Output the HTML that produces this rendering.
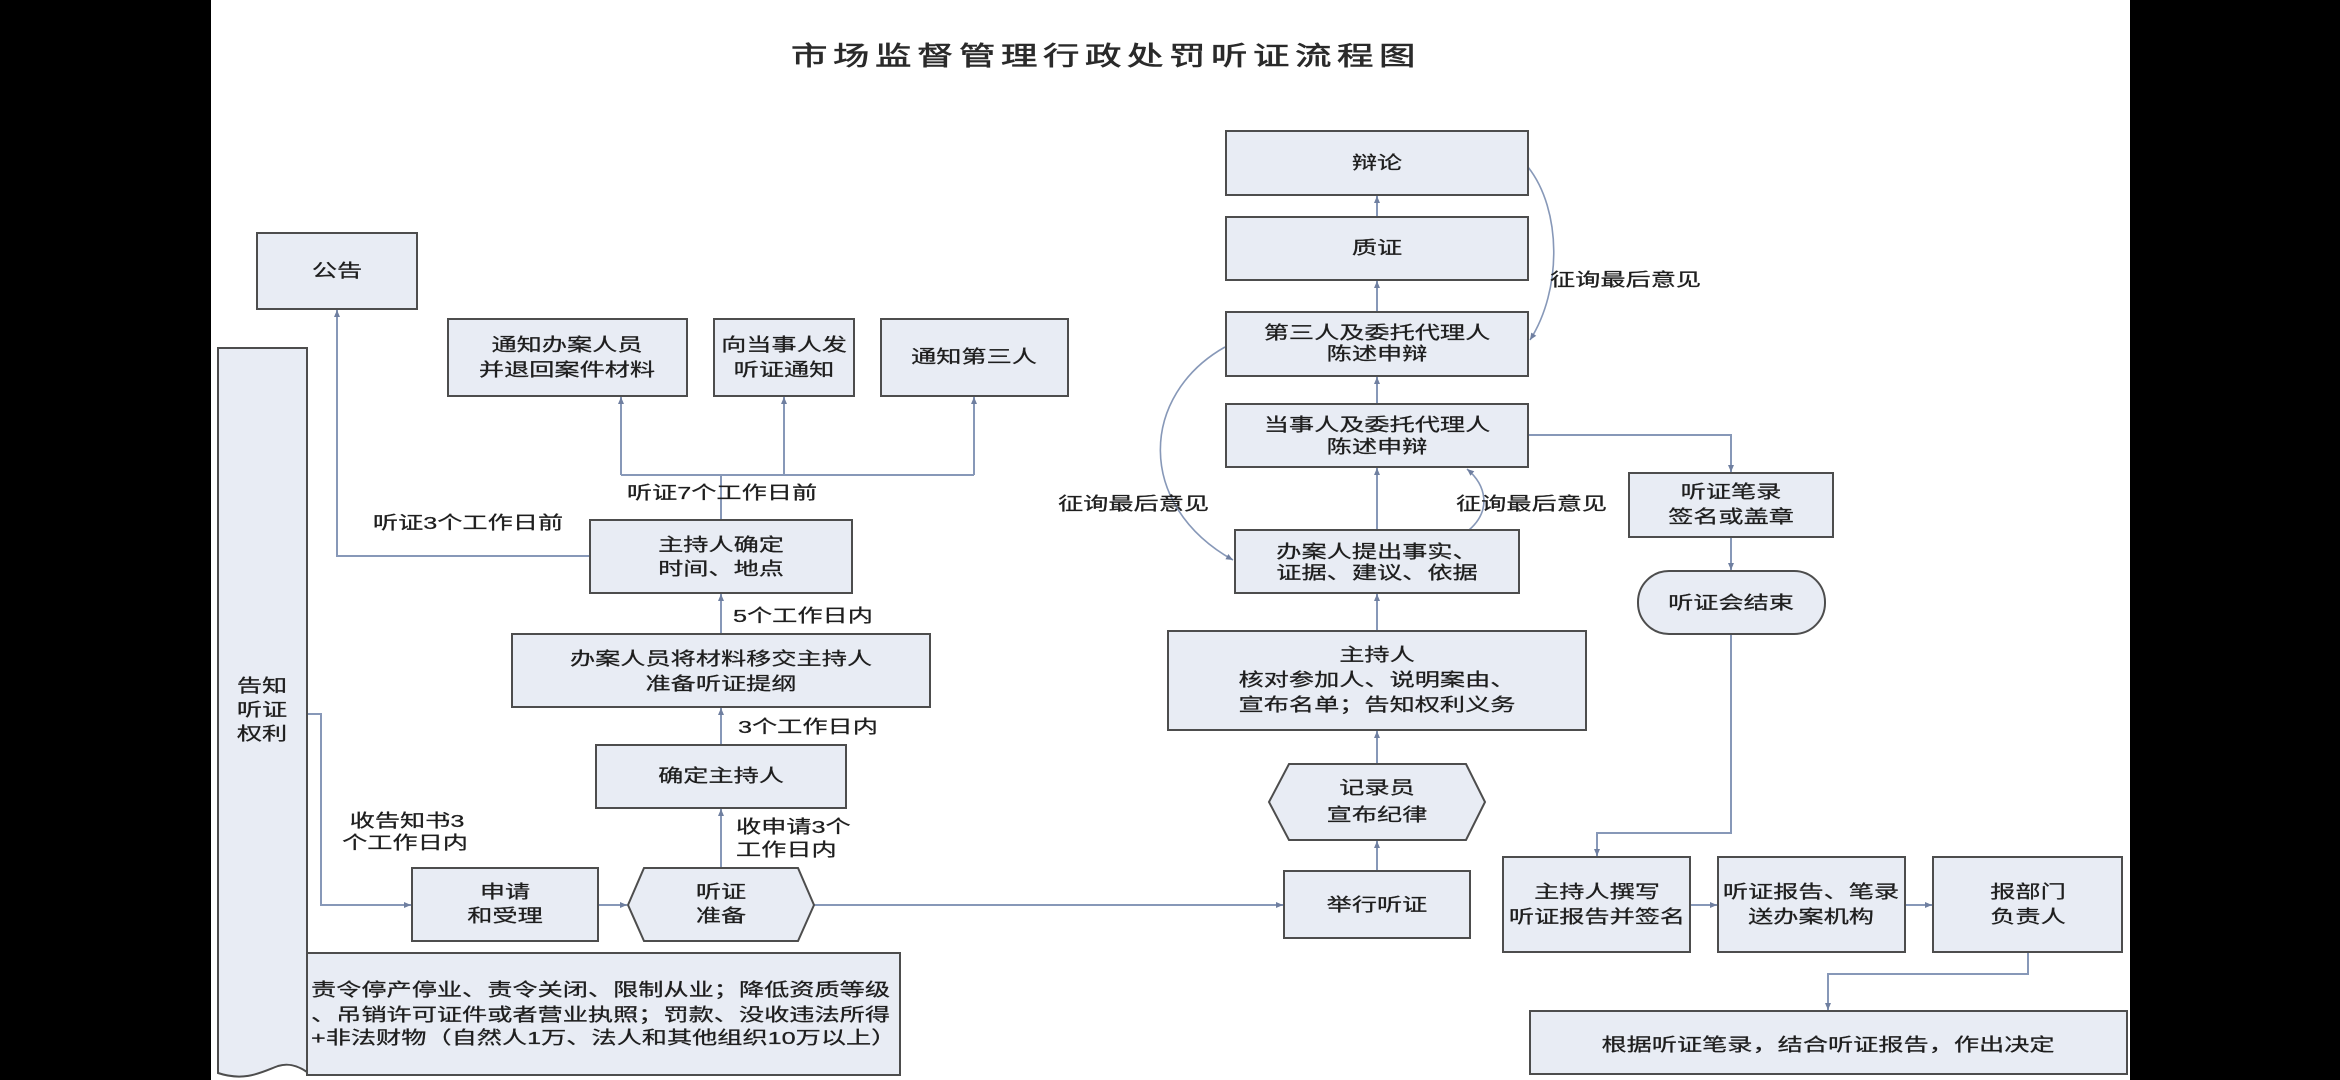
<!DOCTYPE html>
<html><head><meta charset="utf-8"><style>
html,body{margin:0;padding:0;background:#fff;}
svg{display:block;}
.t{font-family:"Liberation Sans","Noto Sans CJK SC",sans-serif;font-size:18px;fill:#1e1e1e;stroke:#1e1e1e;stroke-width:0.25;}
.ttl{font-family:"Liberation Sans","Noto Sans CJK SC",sans-serif;font-size:26px;fill:#2a2a2a;stroke:#2a2a2a;stroke-width:0.6;letter-spacing:4px;}
.b{fill:#e8ecf4;stroke:#4d4d4d;stroke-width:2;}
.c{fill:none;stroke:#8798b8;stroke-width:2;}
</style></head><body>
<svg width="2340" height="1080" viewBox="0 0 2340 1080" xmlns="http://www.w3.org/2000/svg">
<defs>
<marker id="a" markerWidth="8" markerHeight="8" refX="7" refY="4" orient="auto" markerUnits="userSpaceOnUse">
<path d="M0,1 L7,4 L0,7 Z" fill="#6f7fa0"/>
</marker>
</defs>
<rect x="0" y="0" width="2340" height="1080" fill="#fff"/>
<rect x="0" y="0" width="211" height="1080" fill="#000"/>
<rect x="2130" y="0" width="210" height="1080" fill="#000"/>

<!-- title -->
<text class="ttl" text-anchor="middle" dominant-baseline="central" transform="translate(1106,56) scale(1.4,1)">市场监督管理行政处罚听证流程图</text>

<!-- connectors left -->
<path class="c" d="M721,520 V475"/>
<path class="c" d="M621,475 H974"/>
<path class="c" d="M621,475 V397" marker-end="url(#a)"/>
<path class="c" d="M784,475 V397" marker-end="url(#a)"/>
<path class="c" d="M974,475 V397" marker-end="url(#a)"/>
<path class="c" d="M590,556 H337 V310" marker-end="url(#a)"/>
<path class="c" d="M721,634 V594" marker-end="url(#a)"/>
<path class="c" d="M721,745 V708" marker-end="url(#a)"/>
<path class="c" d="M721,868 V809" marker-end="url(#a)"/>
<path class="c" d="M307,714 H321 V905 H411" marker-end="url(#a)"/>
<path class="c" d="M598,905 H627" marker-end="url(#a)"/>
<path class="c" d="M814,905 H1283" marker-end="url(#a)"/>

<!-- connectors right -->
<path class="c" d="M1377,871 V841" marker-end="url(#a)"/>
<path class="c" d="M1377,764 V731" marker-end="url(#a)"/>
<path class="c" d="M1377,631 V594" marker-end="url(#a)"/>
<path class="c" d="M1377,530 V468" marker-end="url(#a)"/>
<path class="c" d="M1377,404 V377" marker-end="url(#a)"/>
<path class="c" d="M1377,312 V281" marker-end="url(#a)"/>
<path class="c" d="M1377,217 V196" marker-end="url(#a)"/>
<path class="c" d="M1528,167 C1562,210 1562,290 1530,340" marker-end="url(#a)" style="stroke-width:1.6"/>
<path class="c" d="M1225,347 C1140,395 1135,505 1233,560" marker-end="url(#a)" style="stroke-width:1.6"/>
<path class="c" d="M1469,530 C1492,510 1486,485 1467,469" marker-end="url(#a)" style="stroke-width:1.6"/>
<path class="c" d="M1528,435 H1731 V472" marker-end="url(#a)"/>
<path class="c" d="M1731,537 V570" marker-end="url(#a)"/>
<path class="c" d="M1731,634 V833 H1597 V856" marker-end="url(#a)"/>
<path class="c" d="M1690,905 H1717" marker-end="url(#a)"/>
<path class="c" d="M1905,905 H1932" marker-end="url(#a)"/>
<path class="c" d="M2028,952 V974 H1828 V1010" marker-end="url(#a)"/>

<!-- left document shape -->
<path class="b" d="M218,348 H307 V1072 C297,1065 288,1063 278,1066 C262,1072 245,1082 218,1073 Z"/>
<text class="t" text-anchor="middle" dominant-baseline="central" transform="translate(262,686) scale(1.4,1)">告知</text>
<text class="t" text-anchor="middle" dominant-baseline="central" transform="translate(262,710) scale(1.4,1)">听证</text>
<text class="t" text-anchor="middle" dominant-baseline="central" transform="translate(262,734) scale(1.4,1)">权利</text>

<!-- left boxes -->
<rect class="b" x="257" y="233" width="160" height="76"/>
<text class="t" text-anchor="middle" dominant-baseline="central" transform="translate(337,271) scale(1.4,1)">公告</text>

<rect class="b" x="448" y="319" width="239" height="77"/>
<text class="t" text-anchor="middle" dominant-baseline="central" transform="translate(567,345) scale(1.4,1)">通知办案人员</text>
<text class="t" text-anchor="middle" dominant-baseline="central" transform="translate(567,370) scale(1.4,1)">并退回案件材料</text>

<rect class="b" x="714" y="319" width="140" height="77"/>
<text class="t" text-anchor="middle" dominant-baseline="central" transform="translate(784,345) scale(1.4,1)">向当事人发</text>
<text class="t" text-anchor="middle" dominant-baseline="central" transform="translate(784,370) scale(1.4,1)">听证通知</text>

<rect class="b" x="881" y="319" width="187" height="77"/>
<text class="t" text-anchor="middle" dominant-baseline="central" transform="translate(974,357) scale(1.4,1)">通知第三人</text>

<rect class="b" x="590" y="520" width="262" height="73"/>
<text class="t" text-anchor="middle" dominant-baseline="central" transform="translate(721,545) scale(1.4,1)">主持人确定</text>
<text class="t" text-anchor="middle" dominant-baseline="central" transform="translate(721,569) scale(1.4,1)">时间、地点</text>

<rect class="b" x="512" y="634" width="418" height="73"/>
<text class="t" text-anchor="middle" dominant-baseline="central" transform="translate(721,659) scale(1.4,1)">办案人员将材料移交主持人</text>
<text class="t" text-anchor="middle" dominant-baseline="central" transform="translate(721,684) scale(1.4,1)">准备听证提纲</text>

<rect class="b" x="596" y="745" width="250" height="63"/>
<text class="t" text-anchor="middle" dominant-baseline="central" transform="translate(721,776) scale(1.4,1)">确定主持人</text>

<rect class="b" x="412" y="868" width="186" height="73"/>
<text class="t" text-anchor="middle" dominant-baseline="central" transform="translate(505,892) scale(1.4,1)">申请</text>
<text class="t" text-anchor="middle" dominant-baseline="central" transform="translate(505,916) scale(1.4,1)">和受理</text>

<path class="b" d="M628,905 L644,868 H798 L814,905 L798,941 H644 Z"/>
<text class="t" text-anchor="middle" dominant-baseline="central" transform="translate(721,892) scale(1.4,1)">听证</text>
<text class="t" text-anchor="middle" dominant-baseline="central" transform="translate(721,916) scale(1.4,1)">准备</text>

<rect class="b" x="307" y="953" width="593" height="122"/>
<text class="t" dominant-baseline="central" transform="translate(311,990) scale(1.4,1)">责令停产停业、责令关闭、限制从业；降低资质等级</text>
<text class="t" dominant-baseline="central" transform="translate(311,1015) scale(1.4,1)">、吊销许可证件或者营业执照；罚款、没收违法所得</text>
<text class="t" dominant-baseline="central" transform="translate(311,1038) scale(1.4,1)">+非法财物（自然人1万、法人和其他组织10万以上）</text>

<!-- left labels -->
<text class="t" text-anchor="middle" dominant-baseline="central" transform="translate(722,493) scale(1.4,1)">听证7个工作日前</text>
<text class="t" text-anchor="middle" dominant-baseline="central" transform="translate(468,523) scale(1.4,1)">听证3个工作日前</text>
<text class="t" dominant-baseline="central" transform="translate(733,616) scale(1.4,1)">5个工作日内</text>
<text class="t" dominant-baseline="central" transform="translate(738,727) scale(1.4,1)">3个工作日内</text>
<text class="t" dominant-baseline="central" transform="translate(736,827) scale(1.4,1)">收申请3个</text>
<text class="t" dominant-baseline="central" transform="translate(736,850) scale(1.4,1)">工作日内</text>
<text class="t" text-anchor="middle" dominant-baseline="central" transform="translate(407,821) scale(1.4,1)">收告知书3</text>
<text class="t" text-anchor="middle" dominant-baseline="central" transform="translate(405,843) scale(1.4,1)">个工作日内</text>

<!-- right boxes -->
<rect class="b" x="1226" y="131" width="302" height="64"/>
<text class="t" text-anchor="middle" dominant-baseline="central" transform="translate(1377,163) scale(1.4,1)">辩论</text>

<rect class="b" x="1226" y="217" width="302" height="63"/>
<text class="t" text-anchor="middle" dominant-baseline="central" transform="translate(1377,248) scale(1.4,1)">质证</text>

<rect class="b" x="1226" y="312" width="302" height="64"/>
<text class="t" text-anchor="middle" dominant-baseline="central" transform="translate(1377,333) scale(1.4,1)">第三人及委托代理人</text>
<text class="t" text-anchor="middle" dominant-baseline="central" transform="translate(1377,354) scale(1.4,1)">陈述申辩</text>

<rect class="b" x="1226" y="404" width="302" height="63"/>
<text class="t" text-anchor="middle" dominant-baseline="central" transform="translate(1377,425) scale(1.4,1)">当事人及委托代理人</text>
<text class="t" text-anchor="middle" dominant-baseline="central" transform="translate(1377,447) scale(1.4,1)">陈述申辩</text>

<rect class="b" x="1235" y="530" width="284" height="63"/>
<text class="t" text-anchor="middle" dominant-baseline="central" transform="translate(1377,552) scale(1.4,1)">办案人提出事实、</text>
<text class="t" text-anchor="middle" dominant-baseline="central" transform="translate(1377,573) scale(1.4,1)">证据、建议、依据</text>

<rect class="b" x="1168" y="631" width="418" height="99"/>
<text class="t" text-anchor="middle" dominant-baseline="central" transform="translate(1377,655) scale(1.4,1)">主持人</text>
<text class="t" text-anchor="middle" dominant-baseline="central" transform="translate(1377,680) scale(1.4,1)">核对参加人、说明案由、</text>
<text class="t" text-anchor="middle" dominant-baseline="central" transform="translate(1377,705) scale(1.4,1)">宣布名单；告知权利义务</text>

<path class="b" d="M1269,802 L1289,764 H1466 L1485,802 L1466,840 H1289 Z"/>
<text class="t" text-anchor="middle" dominant-baseline="central" transform="translate(1377,788) scale(1.4,1)">记录员</text>
<text class="t" text-anchor="middle" dominant-baseline="central" transform="translate(1377,815) scale(1.4,1)">宣布纪律</text>

<rect class="b" x="1284" y="871" width="186" height="67"/>
<text class="t" text-anchor="middle" dominant-baseline="central" transform="translate(1377,905) scale(1.4,1)">举行听证</text>

<rect class="b" x="1629" y="473" width="204" height="64"/>
<text class="t" text-anchor="middle" dominant-baseline="central" transform="translate(1731,492) scale(1.4,1)">听证笔录</text>
<text class="t" text-anchor="middle" dominant-baseline="central" transform="translate(1731,517) scale(1.4,1)">签名或盖章</text>

<rect class="b" x="1638" y="571" width="187" height="63" rx="31" ry="31"/>
<text class="t" text-anchor="middle" dominant-baseline="central" transform="translate(1731,603) scale(1.4,1)">听证会结束</text>

<rect class="b" x="1503" y="857" width="187" height="95"/>
<text class="t" text-anchor="middle" dominant-baseline="central" transform="translate(1597,892) scale(1.4,1)">主持人撰写</text>
<text class="t" text-anchor="middle" dominant-baseline="central" transform="translate(1597,917) scale(1.4,1)">听证报告并签名</text>

<rect class="b" x="1718" y="857" width="187" height="95"/>
<text class="t" text-anchor="middle" dominant-baseline="central" transform="translate(1811,892) scale(1.4,1)">听证报告、笔录</text>
<text class="t" text-anchor="middle" dominant-baseline="central" transform="translate(1811,917) scale(1.4,1)">送办案机构</text>

<rect class="b" x="1933" y="857" width="189" height="95"/>
<text class="t" text-anchor="middle" dominant-baseline="central" transform="translate(2028,892) scale(1.4,1)">报部门</text>
<text class="t" text-anchor="middle" dominant-baseline="central" transform="translate(2028,917) scale(1.4,1)">负责人</text>

<rect class="b" x="1530" y="1011" width="597" height="63"/>
<text class="t" text-anchor="middle" dominant-baseline="central" transform="translate(1828,1045) scale(1.4,1)">根据听证笔录，结合听证报告，作出决定</text>

<!-- right labels -->
<text class="t" dominant-baseline="central" transform="translate(1550,280) scale(1.4,1)">征询最后意见</text>
<text class="t" dominant-baseline="central" transform="translate(1058,504) scale(1.4,1)">征询最后意见</text>
<text class="t" dominant-baseline="central" transform="translate(1456,504) scale(1.4,1)">征询最后意见</text>
</svg>
</body></html>
